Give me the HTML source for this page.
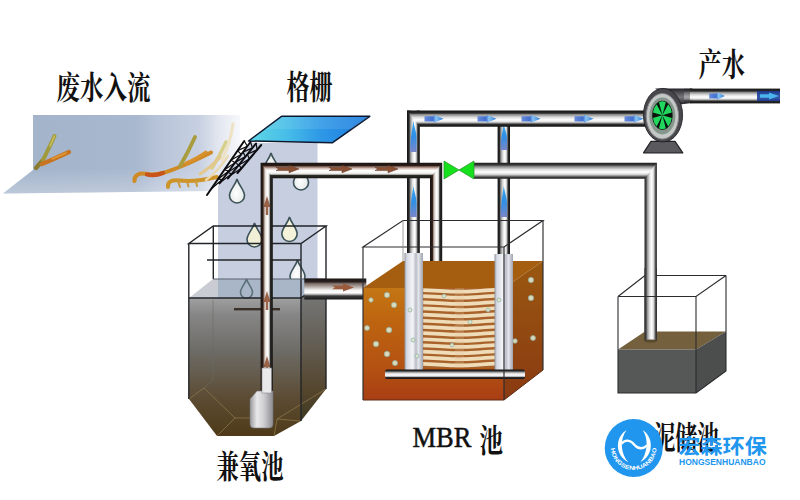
<!DOCTYPE html>
<html lang="zh"><head><meta charset="utf-8"><title>MBR</title>
<style>
html,body{margin:0;padding:0;background:#fff;}
body{width:800px;height:500px;overflow:hidden;font-family:"Liberation Sans",sans-serif;}
svg{display:block}
text{font-family:"Liberation Sans",sans-serif}
.serif{font-family:"Liberation Serif",serif}
.cjkserif{font-family:"Liberation Serif","Noto Serif CJK SC",serif;font-weight:bold}
.cjksans{font-family:"Liberation Sans","Noto Sans CJK SC",sans-serif;font-weight:bold}
</style></head><body>
<svg width="800" height="500" viewBox="0 0 800 500">
<defs>
<linearGradient id="chan" gradientUnits="userSpaceOnUse" x1="33" y1="0" x2="240" y2="0">
<stop offset="0" stop-color="#a3b4cb"/><stop offset=".5" stop-color="#a8b8ce"/><stop offset=".6" stop-color="#b7c3d8"/><stop offset=".8" stop-color="#c6d0e1"/><stop offset=".9" stop-color="#e3e7f0"/><stop offset="1" stop-color="#f7f8fb"/></linearGradient>
<linearGradient id="floor" gradientUnits="userSpaceOnUse" x1="0" y1="168" x2="0" y2="194">
<stop offset="0" stop-color="#ffffff" stop-opacity="0"/><stop offset="1" stop-color="#ffffff" stop-opacity=".28"/></linearGradient>
<linearGradient id="plate" gradientUnits="userSpaceOnUse" x1="255" y1="0" x2="365" y2="0">
<stop offset="0" stop-color="#5cd4e6"/><stop offset=".3" stop-color="#46bce8"/><stop offset=".6" stop-color="#2e98e6"/><stop offset="1" stop-color="#1c7ce0"/></linearGradient>
<!-- pipe gradients: horizontal pipes shade along y, vertical along x (objectBoundingBox) -->
<linearGradient id="ph" x1="0" y1="0" x2="0" y2="1">
<stop offset="0" stop-color="#141414"/><stop offset=".17" stop-color="#2c2c2c"/><stop offset=".25" stop-color="#8a8a8a"/><stop offset=".42" stop-color="#dcdcdc"/><stop offset=".58" stop-color="#ffffff"/><stop offset=".7" stop-color="#e0e0e0"/><stop offset=".78" stop-color="#8c8c8c"/><stop offset=".84" stop-color="#2c2c2c"/><stop offset="1" stop-color="#141414"/></linearGradient>
<linearGradient id="pv" x1="0" y1="0" x2="1" y2="0">
<stop offset="0" stop-color="#141414"/><stop offset=".17" stop-color="#2c2c2c"/><stop offset=".25" stop-color="#8a8a8a"/><stop offset=".42" stop-color="#dcdcdc"/><stop offset=".58" stop-color="#ffffff"/><stop offset=".7" stop-color="#e0e0e0"/><stop offset=".78" stop-color="#8c8c8c"/><stop offset=".84" stop-color="#2c2c2c"/><stop offset="1" stop-color="#141414"/></linearGradient>
<linearGradient id="bh" x1="0" y1="0" x2="0" y2="1">
<stop offset="0" stop-color="#1a1411"/><stop offset=".18" stop-color="#2a1c17"/><stop offset=".25" stop-color="#84655a"/><stop offset=".37" stop-color="#d6c4bc"/><stop offset=".5" stop-color="#fdfdfd"/><stop offset=".68" stop-color="#f4f4f2"/><stop offset=".76" stop-color="#a8a8a2"/><stop offset=".82" stop-color="#2c2a24"/><stop offset="1" stop-color="#161612"/></linearGradient>
<linearGradient id="bv" x1="0" y1="0" x2="1" y2="0">
<stop offset="0" stop-color="#1a1411"/><stop offset=".2" stop-color="#2e1e19"/><stop offset=".28" stop-color="#a08a80"/><stop offset=".4" stop-color="#e6e0dc"/><stop offset=".55" stop-color="#ffffff"/><stop offset=".68" stop-color="#e4e4e2"/><stop offset=".75" stop-color="#8a8a88"/><stop offset=".8" stop-color="#2a2a28"/><stop offset="1" stop-color="#161614"/></linearGradient>
<linearGradient id="gh" x1="0" y1="0" x2="0" y2="1">
<stop offset="0" stop-color="#1e1e1e"/><stop offset=".14" stop-color="#3a3a3a"/><stop offset=".24" stop-color="#8e8e8e"/><stop offset=".42" stop-color="#dedede"/><stop offset=".58" stop-color="#ffffff"/><stop offset=".72" stop-color="#dadada"/><stop offset=".82" stop-color="#8a8a8a"/><stop offset=".9" stop-color="#3a3a3a"/><stop offset="1" stop-color="#1e1e1e"/></linearGradient>
<linearGradient id="gv" x1="0" y1="0" x2="1" y2="0">
<stop offset="0" stop-color="#2a2a2a"/><stop offset=".13" stop-color="#454545"/><stop offset=".24" stop-color="#989898"/><stop offset=".42" stop-color="#e2e2e2"/><stop offset=".58" stop-color="#ffffff"/><stop offset=".72" stop-color="#dcdcdc"/><stop offset=".82" stop-color="#909090"/><stop offset=".9" stop-color="#454545"/><stop offset="1" stop-color="#2a2a2a"/></linearGradient>
<linearGradient id="ch" x1="0" y1="0" x2="0" y2="1">
<stop offset="0" stop-color="#1a1514"/><stop offset=".16" stop-color="#2a2220"/><stop offset=".24" stop-color="#7a6a64"/><stop offset=".4" stop-color="#b4aca8"/><stop offset=".55" stop-color="#f2f2f2"/><stop offset=".68" stop-color="#ffffff"/><stop offset=".76" stop-color="#b0b0b0"/><stop offset=".83" stop-color="#3a3a3a"/><stop offset="1" stop-color="#181818"/></linearGradient>
<linearGradient id="thr" x1="0" y1="0" x2="0" y2="1">
<stop offset="0" stop-color="#222226"/><stop offset=".25" stop-color="#4e4e52"/><stop offset=".55" stop-color="#77777a"/><stop offset=".8" stop-color="#4a4a4e"/><stop offset="1" stop-color="#222226"/></linearGradient>
<linearGradient id="post" x1="0" y1="0" x2="1" y2="0">
<stop offset="0" stop-color="#8e929c"/><stop offset=".12" stop-color="#d4d8e2"/><stop offset=".45" stop-color="#f4f5f8"/><stop offset=".62" stop-color="#b9bcc6"/><stop offset=".75" stop-color="#e4e6ec"/><stop offset="1" stop-color="#a0a3ac"/></linearGradient>
<linearGradient id="tankw" x1="0" y1="0" x2="0" y2="1">
<stop offset="0" stop-color="#a0a0a0"/><stop offset=".12" stop-color="#868686"/><stop offset=".4" stop-color="#6c6a64"/><stop offset=".72" stop-color="#5c4c34"/><stop offset="1" stop-color="#4e3a18"/></linearGradient>
<linearGradient id="tankr" x1="0" y1="0" x2="0" y2="1">
<stop offset="0" stop-color="#7c7e80"/><stop offset=".4" stop-color="#66625a"/><stop offset=".8" stop-color="#54442c"/><stop offset="1" stop-color="#3c3a22"/></linearGradient>
<linearGradient id="mbrf" x1="0" y1="0" x2="0" y2="1">
<stop offset="0" stop-color="#c47614"/><stop offset=".3" stop-color="#bd6410"/><stop offset=".7" stop-color="#b45212"/><stop offset="1" stop-color="#a93e14"/></linearGradient>
<linearGradient id="mbrr" x1="0" y1="0" x2="0" y2="1">
<stop offset="0" stop-color="#9a5810"/><stop offset="1" stop-color="#8a3a12"/></linearGradient>
<linearGradient id="pumpb" x1="0" y1="0" x2="1" y2="0">
<stop offset="0" stop-color="#9a9a9c"/><stop offset=".3" stop-color="#e8e8ea"/><stop offset=".6" stop-color="#cfcfd2"/><stop offset="1" stop-color="#8c8c90"/></linearGradient>
<linearGradient id="arb" x1="0" y1="0" x2="1" y2="0"><stop offset="0" stop-color="#6a8ad8"/><stop offset=".45" stop-color="#3f6fd0"/><stop offset=".6" stop-color="#8cc4f0"/><stop offset="1" stop-color="#2a78d8"/></linearGradient>
<linearGradient id="arbu" x1="0" y1="1" x2="0" y2="0"><stop offset="0" stop-color="#7a86c8"/><stop offset=".5" stop-color="#2f8fe6"/><stop offset="1" stop-color="#3aa8f0"/></linearGradient>
<radialGradient id="drop" cx=".45" cy=".6" r=".6"><stop offset="0" stop-color="#ffffff"/><stop offset="1" stop-color="#dfe6e4"/></radialGradient>
<path id="dr" d="M0,0 C1.5,6 7.5,11 7.5,16.5 A7.5,7.5 0 0 1 -7.5,16.5 C-7.5,11 -1.5,6 0,0 Z"/>
<path id="ar" d="M-9.5,-2.6 L0,-2.6 L0,-4 L9.5,0 L0,4 L0,2.6 L-9.5,2.6 Z"/>
</defs>
<rect width="800" height="500" fill="#fff"/>

<path d="M33,115 L240,115 L240,150 L212,191 L3,193.5 L33,170 Z" fill="url(#chan)"/>
<path d="M33,170 L225,168 L212,191 L3,193.5 Z" fill="url(#floor)"/>
<g fill="none" stroke-linecap="round" stroke-linejoin="round">
<path d="M36,168 L43,160" stroke="#8c7c30" stroke-width="4.2"/>
<path d="M43,160 C47,152 51,144 54.5,136" stroke="#a09a3c" stroke-width="4.0"/>
<path d="M50,146 L54.5,136" stroke="#c8c060" stroke-width="1.6"/>
<path d="M42,164 C52,160 60,156 69,152" stroke="#c87420" stroke-width="4.2"/>
<path d="M52,159 L66,153" stroke="#e09a38" stroke-width="1.5"/>
<path d="M134.5,181 C134,175 139,172.5 147,174 C158,176 170,171 182,166 C192,162 202,157 211,152.5" stroke="#cf8a26" stroke-width="4.0"/>
<path d="M147,174.5 C153,176 158,175 163,173" stroke="#c8541a" stroke-width="4.2"/>
<path d="M180,166 C186,156 191,146 195,137" stroke="#a89c3c" stroke-width="3.8"/>
<path d="M186,163 C194,160 200,156 206,152" stroke="#d8902c" stroke-width="3.0"/>
<path d="M168,187 C167.5,181.5 172,179.5 180,180.5 C192,182 204,180 217,177" stroke="#cf9428" stroke-width="4.0"/>
<path d="M178,181 L180,187 M187,181.5 L188.5,186.5 M196,181.5 L197,186" stroke="#c89a38" stroke-width="2.0"/>
<path d="M212,168 C217,160 222,151 226,142" stroke="#d9cf8c" stroke-width="3.6"/>
<path d="M200,174 C208,169 214,164 220,157" stroke="#e2c88c" stroke-width="3.2"/>
<path d="M222,160 C227,150 231,138 233,124" stroke="#eee2c4" stroke-width="3.0"/>
<path d="M206,180 C214,174 222,166 228,156" stroke="#ead8ae" stroke-width="2.4"/>
</g>
<path d="M251,143 L317.5,143 L317.5,303 L218,303 L218,186 Z" fill="#c6cee0"/>
<use href="#dr" transform="translate(271 153) scale(1.0)" fill="url(#drop)" stroke="#3c5258" stroke-width="1.60" opacity="1"/>
<use href="#dr" transform="translate(301 166) scale(1.0)" fill="url(#drop)" stroke="#3c5258" stroke-width="1.60" opacity="1"/>
<use href="#dr" transform="translate(237 179) scale(1.0)" fill="url(#drop)" stroke="#3c5258" stroke-width="1.60" opacity="1"/>
<use href="#dr" transform="translate(289.5 217) scale(1.02)" fill="#f4f2d8" stroke="#3c5258" stroke-width="1.57" opacity="1"/>
<use href="#dr" transform="translate(254.5 223) scale(1.0)" fill="#f1efd6" stroke="#3c5258" stroke-width="1.60" opacity="1"/>
<use href="#dr" transform="translate(297.5 260) scale(1.0)" fill="url(#drop)" stroke="#3c5258" stroke-width="1.60" opacity="1"/>
<path d="M281.5,116.3 L369.8,116.3 L332.2,142.8 L248.5,141 Z" fill="url(#plate)" stroke="#0c1830" stroke-width="1.5" stroke-linejoin="round"/>
<path d="M281.5,117 L369,117 L352,129 L265,129 Z" fill="#fff" opacity=".1"/>
<path d="M244.2,141.0 L207.0,195.0 M250.5,142.0 L219.5,183.5 M256.0,143.5 L228.0,178.5 M261.2,145.0 L237.5,173.0" fill="none" stroke="#0c0c10" stroke-width="2" stroke-linecap="round"/>
<path d="M244.2,141.0 L247.4,146.2 L237.6,150.6 M237.6,150.6 L241.2,154.4 L231.0,160.1 M231.0,160.1 L235.0,162.8 L224.5,169.7 M224.5,169.7 L228.8,171.1 L217.9,179.2 M217.9,179.2 L222.6,179.3 L211.3,188.8 M250.5,142.0 L252.5,147.9 L243.0,152.1 M243.0,152.1 L245.5,156.6 L235.5,162.1 M235.5,162.1 L238.5,165.4 L228.0,172.2 M228.0,172.2 L231.5,174.1 L220.5,182.2 M256.0,143.5 L257.2,149.7 L247.4,154.2 M247.4,154.2 L249.3,159.0 L238.9,164.9 M238.9,164.9 L241.4,168.3 L230.3,175.6" fill="none" stroke="#0c0c10" stroke-width="1.2" stroke-linejoin="round"/>
<path d="M189,298 L301,298 L326,279 L213,279 Z" fill="#c9cdd3"/>
<path d="M218,279 L317.5,279 L317.5,298 L218,298 Z" fill="#a9b6c7"/>
<path d="M189,298 L301,298 L301,421 L274,436 L217,436 L189,399 Z" fill="url(#tankw)"/>
<path d="M301,298 L326,279 L326,389 L301,421 Z" fill="url(#tankr)"/>
<path d="M189,399 L204,388 M204,388 L235,418 L250,418 M217,436 L235,418 M274,436 L277,419 L300,421 M277,419 L326,389" fill="none" stroke="#8a7448" stroke-width="1" opacity=".8"/>
<path d="M213,300 L213,380 L204,388" fill="none" stroke="#6a6a66" stroke-width="1" opacity=".6"/>
<use href="#dr" transform="translate(246.5 279) scale(0.8)" fill="none" stroke="#3c5258" stroke-width="2.00" opacity="0.7"/>
<g fill="none" stroke="#222428" stroke-width="1.4">
<path d="M213.3,226 L326,226 L301,243.5 L188.8,243.5 Z"/>
<path d="M188.8,243.5 L188.8,399 M301,243.5 L301,421 M326,226 L326,389 M213.3,226 L213.3,279"/>
<path d="M189,298 L301,298 L326,279"/>
<path d="M213,279 L326,279" stroke="#5a6270" stroke-width="1"/>
<path d="M207,260 L301,260" stroke-width="1.4"/>
</g>
<rect x="234" y="308" width="46" height="2.4" fill="#3a302a"/>
<rect x="260.6" y="163" width="12.2" height="232" fill="url(#bv)"/>
<path d="M267,196 L270.5,207 L268.2,207 L268.2,215 L265.8,215 L265.8,207 L263.5,207 Z" fill="#8a4a2c" opacity=".85"/>
<path d="M267,291 L270.5,302 L268.2,302 L268.2,310 L265.8,310 L265.8,302 L263.5,302 Z" fill="#8a4a2c" opacity=".85"/>
<path d="M267,356 L270.5,367 L268.2,367 L268.2,375 L265.8,375 L265.8,367 L263.5,367 Z" fill="#8a4a2c" opacity=".85"/>
<path d="M250,399 L257,391 L273,391 L273,424 Q273,428 269,428 L254,428 Q250,428 250,424 Z" fill="url(#pumpb)" stroke="#77777c" stroke-width=".6"/>
<rect x="262" y="368" width="9.5" height="25" fill="#e9e9ec" stroke="#8a8a90" stroke-width=".6"/>
<rect x="304.3" y="278.5" width="62" height="21" fill="url(#ch)"/>
<path d="M343,283.2 L354,287.4 L343,291.6 L343,289.2 L332,289.2 L335,287.4 L332,285.6 L343,285.6 Z" fill="#9a5a3c"/>
<rect x="407" y="110.5" width="12.8" height="143.5" fill="url(#pv)"/>
<rect x="497.6" y="120" width="12.4" height="134" fill="url(#pv)"/>
<rect x="430" y="163" width="12.2" height="98" fill="url(#bv)"/>
<path d="M413.4,121.0 C414.2,127.2 416.6,131.8 416.6,138.1 L416.6,152.0 L410.2,152.0 C410.2,138.1 412.6,127.2 413.4,121.0 Z" fill="url(#arbu)"/>
<path d="M413.4,186.0 C414.2,192.2 416.6,196.8 416.6,203.1 L416.6,217.0 L410.2,217.0 C410.2,203.1 412.6,192.2 413.4,186.0 Z" fill="url(#arbu)"/>
<path d="M503.8,124.0 C504.6,129.2 507.0,133.1 507.0,138.3 L507.0,150.0 L500.6,150.0 C500.6,138.3 503.0,129.2 503.8,124.0 Z" fill="url(#arbu)"/>
<path d="M503.8,186.0 C504.6,192.2 507.0,196.8 507.0,203.1 L507.0,217.0 L500.6,217.0 C500.6,203.1 503.0,192.2 503.8,186.0 Z" fill="url(#arbu)"/>
<path d="M260.6,162.8 L442.2,162.8 L430,178.2 L272.8,178.2 Z" fill="url(#bh)"/>
<rect x="644.5" y="163" width="12.4" height="178" fill="url(#gv)"/>
<path d="M473,162.8 L656.9,162.8 L644.5,178.8 L473,178.8 Z" fill="url(#gh)"/>
<path d="M289,165.2 L299,169 L289,172.8 L289,170.6 L276,170.6 L279,169 L276,167.4 L289,167.4 Z" fill="#8a5034" stroke="#5a3220" stroke-width=".5"/>
<path d="M342,165.2 L352,169 L342,172.8 L342,170.6 L329,170.6 L332,169 L329,167.4 L342,167.4 Z" fill="#8a5034" stroke="#5a3220" stroke-width=".5"/>
<path d="M388,165.2 L398,169 L388,172.8 L388,170.6 L375,170.6 L378,169 L375,167.4 L388,167.4 Z" fill="#8a5034" stroke="#5a3220" stroke-width=".5"/>
<path d="M444,161 L459,170 L444,179 Z M474,161 L459,170 L474,179 Z" fill="#14e01c" stroke="#2a9a30" stroke-width=".8" stroke-linejoin="round"/>
<path d="M407,110.4 L647,110.4 L647,126.8 L419.8,126.8 Z" fill="url(#ph)"/>
<use href="#ar" transform="translate(434 118.8)" fill="url(#arb)"/>
<use href="#ar" transform="translate(487 118.8)" fill="url(#arb)"/>
<use href="#ar" transform="translate(531 118.8)" fill="url(#arb)"/>
<use href="#ar" transform="translate(584 118.8)" fill="url(#arb)"/>
<use href="#ar" transform="translate(634 118.8)" fill="url(#arb)"/>
<path d="M643.5,152.8 L651,141.4 L675,141.4 L682.8,152.8 Z" fill="#5a5a5e" stroke="#222226" stroke-width="1.2" stroke-linejoin="round"/>
<path d="M655,88.4 L692,88.4 L692,103 L680,104.5 Z" fill="url(#thr)"/>
<ellipse cx="663" cy="115.2" rx="19.6" ry="26.8" fill="#48484c" stroke="#1e1e22" stroke-width=".8"/>
<ellipse cx="662.4" cy="116.3" rx="16.2" ry="22.8" fill="#c4c8c6" stroke="#858588" stroke-width="1"/>
<ellipse cx="662.4" cy="116" rx="13" ry="18.4" fill="#86968c"/>
<ellipse cx="662.4" cy="115.3" rx="10.2" ry="14.6" fill="#0a120c"/>
<g fill="#20d85e" transform="translate(662.4 115.3) scale(1 1.45)">
<path d="M0,0 L-3.4,-9 A9.7,9.7 0 0 1 3.4,-9 Z"/>
<path d="M0,0 L3.4,9 A9.7,9.7 0 0 1 -3.4,9 Z"/>
<path d="M0,0 L9,-3.4 A9.7,9.7 0 0 1 9,3.4 Z" transform="rotate(-32)"/>
<path d="M0,0 L-9,3.4 A9.7,9.7 0 0 1 -9,-3.4 Z" transform="rotate(-32)"/>
<path d="M0,0 L9,-3.4 A9.7,9.7 0 0 1 9,3.4 Z" transform="rotate(32)"/>
<path d="M0,0 L-9,3.4 A9.7,9.7 0 0 1 -9,-3.4 Z" transform="rotate(32)"/>
</g>
<rect x="690" y="88.6" width="90" height="14.8" fill="url(#ph)"/>
<rect x="684" y="88.6" width="9" height="14.4" fill="url(#ph)" opacity=".35"/>
<use href="#ar" transform="translate(717 96) scale(.82 1)" fill="url(#arb)"/>
<rect x="757" y="91" width="23" height="10" fill="#12349a" opacity=".85"/>
<path d="M760,94.2 L769,94.2 L769,92.4 L779,96 L769,99.6 L769,97.8 L760,97.8 Z" fill="#4ab4ec"/>
<path d="M363,288 L403,261 L543,261 L504,288 Z" fill="#a55e10"/>
<path d="M504,288 L543,261 L543,370 L504,400 Z" fill="url(#mbrr)"/>
<path d="M363,288 L504,288 L504,400 L363,400 Z" fill="url(#mbrf)"/>
<rect x="422.5" y="288" width="72.5" height="80.5" fill="#a8622a"/>
<path d="M422.5,288.2 C440,288.6 450,289.8 459,289.8 S482,288.8 495,288.0 L495,291.7 C482,292.5 470,293.5 459,293.5 S440,292.3 422.5,291.9 Z" fill="#efdcb8"/>
<path d="M422.5,294.3 C440,294.7 450,295.9 459,295.9 S482,294.9 495,294.1 L495,297.8 C482,298.6 470,299.6 459,299.6 S440,298.4 422.5,298.0 Z" fill="#efdcb8"/>
<path d="M422.5,300.5 C440,300.9 450,302.1 459,302.1 S482,301.1 495,300.3 L495,304.0 C482,304.8 470,305.8 459,305.8 S440,304.6 422.5,304.2 Z" fill="#efdcb8"/>
<path d="M422.5,306.6 C440,307.0 450,308.2 459,308.2 S482,307.2 495,306.4 L495,310.1 C482,310.9 470,311.9 459,311.9 S440,310.7 422.5,310.3 Z" fill="#efdcb8"/>
<path d="M422.5,312.8 C440,313.2 450,314.4 459,314.4 S482,313.4 495,312.6 L495,316.3 C482,317.1 470,318.1 459,318.1 S440,316.9 422.5,316.5 Z" fill="#efdcb8"/>
<path d="M422.5,318.9 C440,319.3 450,320.5 459,320.5 S482,319.5 495,318.7 L495,322.4 C482,323.2 470,324.2 459,324.2 S440,323.0 422.5,322.6 Z" fill="#efdcb8"/>
<path d="M422.5,325.1 C440,325.5 450,326.7 459,326.7 S482,325.7 495,324.9 L495,328.6 C482,329.4 470,330.4 459,330.4 S440,329.2 422.5,328.8 Z" fill="#efdcb8"/>
<path d="M422.5,331.2 C440,331.6 450,332.8 459,332.8 S482,331.8 495,331.0 L495,334.7 C482,335.5 470,336.5 459,336.5 S440,335.3 422.5,334.9 Z" fill="#efdcb8"/>
<path d="M422.5,337.4 C440,337.8 450,339.0 459,339.0 S482,338.0 495,337.2 L495,340.9 C482,341.7 470,342.7 459,342.7 S440,341.5 422.5,341.1 Z" fill="#efdcb8"/>
<path d="M422.5,343.5 C440,343.9 450,345.1 459,345.1 S482,344.1 495,343.3 L495,347.0 C482,347.8 470,348.8 459,348.8 S440,347.6 422.5,347.2 Z" fill="#efdcb8"/>
<path d="M422.5,349.7 C440,350.1 450,351.3 459,351.3 S482,350.3 495,349.5 L495,353.2 C482,354.0 470,355.0 459,355.0 S440,353.8 422.5,353.4 Z" fill="#efdcb8"/>
<path d="M422.5,355.8 C440,356.2 450,357.4 459,357.4 S482,356.4 495,355.6 L495,359.3 C482,360.1 470,361.1 459,361.1 S440,359.9 422.5,359.5 Z" fill="#efdcb8"/>
<path d="M422.5,362.0 C440,362.4 450,363.6 459,363.6 S482,362.6 495,361.8 L495,365.5 C482,366.3 470,367.3 459,367.3 S440,366.1 422.5,365.7 Z" fill="#efdcb8"/>
<rect x="455" y="288" width="9" height="80" fill="#e8c8a0" opacity=".22"/>
<rect x="421.6" y="288" width="1.6" height="82" fill="#6a5a50" opacity=".7"/>
<rect x="404.5" y="253" width="18.5" height="120" fill="url(#post)"/>
<rect x="494.5" y="254" width="18.5" height="119" fill="url(#post)"/>
<rect x="385" y="369.5" width="140" height="9.5" rx="2" fill="url(#ph)"/>
<circle cx="387" cy="295" r="2.7" fill="#dfe8cc" stroke="#8fb0a8" stroke-width=".8" opacity=".9"/>
<circle cx="394" cy="305" r="2.7" fill="#dfe8cc" stroke="#8fb0a8" stroke-width=".8" opacity=".9"/>
<circle cx="367" cy="328" r="2.5" fill="#dfe8cc" stroke="#8fb0a8" stroke-width=".8" opacity=".9"/>
<circle cx="389" cy="330" r="2.8" fill="#dfe8cc" stroke="#8fb0a8" stroke-width=".8" opacity=".9"/>
<circle cx="376" cy="344" r="2.8" fill="#dfe8cc" stroke="#8fb0a8" stroke-width=".8" opacity=".9"/>
<circle cx="387" cy="354" r="2.8" fill="#dfe8cc" stroke="#8fb0a8" stroke-width=".8" opacity=".9"/>
<circle cx="395" cy="363" r="2.6" fill="#dfe8cc" stroke="#8fb0a8" stroke-width=".8" opacity=".9"/>
<circle cx="371" cy="300" r="2.2" fill="#dfe8cc" stroke="#8fb0a8" stroke-width=".8" opacity=".9"/>
<circle cx="410" cy="310" r="2" fill="#dfe8cc" stroke="#8fb0a8" stroke-width=".8" opacity=".9"/>
<circle cx="413" cy="340" r="2" fill="#dfe8cc" stroke="#8fb0a8" stroke-width=".8" opacity=".9"/>
<circle cx="417" cy="356" r="2" fill="#dfe8cc" stroke="#8fb0a8" stroke-width=".8" opacity=".9"/>
<circle cx="531" cy="280" r="2.7" fill="#dfe8cc" stroke="#8fb0a8" stroke-width=".8" opacity=".9"/>
<circle cx="531" cy="298" r="2.7" fill="#dfe8cc" stroke="#8fb0a8" stroke-width=".8" opacity=".9"/>
<circle cx="533" cy="338" r="2.5" fill="#dfe8cc" stroke="#8fb0a8" stroke-width=".8" opacity=".9"/>
<circle cx="515" cy="341" r="2.3" fill="#dfe8cc" stroke="#8fb0a8" stroke-width=".8" opacity=".9"/>
<circle cx="499" cy="300" r="2" fill="#dfe8cc" stroke="#8fb0a8" stroke-width=".8" opacity=".9"/>
<circle cx="488" cy="310" r="2" fill="#dfe8cc" stroke="#8fb0a8" stroke-width=".8" opacity=".9"/>
<circle cx="444" cy="296" r="2" fill="#dfe8cc" stroke="#8fb0a8" stroke-width=".8" opacity=".9"/>
<circle cx="470" cy="322" r="2" fill="#dfe8cc" stroke="#8fb0a8" stroke-width=".8" opacity=".9"/>
<circle cx="452" cy="345" r="2" fill="#dfe8cc" stroke="#8fb0a8" stroke-width=".8" opacity=".9"/>
<g fill="none" stroke="#2c2c30" stroke-width="1.15">
<path d="M403,220.5 L543,220.5 L504,247 L363,247 Z"/>
<path d="M363,247 L363,400 M504,247 L504,400 M543,220.5 L543,370"/>
<path d="M403,220.5 L403,261" stroke="#888" stroke-width=".8"/>
<path d="M363,400 L504,400 L543,370" stroke="#5a2a14" stroke-width="1"/>
</g>
<path d="M618,349.5 L645,331.5 L726,331.5 L696,349.5 Z" fill="#74603c"/>
<path d="M618,349.5 L696,349.5 L696,393 L618,393 Z" fill="#565757"/>
<path d="M696,349.5 L726,331.5 L726,371 L696,393 Z" fill="#4c4d4d"/>
<path d="M645,275.5 L726,275.5 M645,275.5 L618,296.5" fill="none" stroke="#2c2c30" stroke-width="1.1"/>
<rect x="644.5" y="268" width="12.4" height="73" fill="url(#gv)"/>
<ellipse cx="650.7" cy="341" rx="6.2" ry="1.6" fill="#5a4a30"/>
<g fill="none" stroke="#2c2c30" stroke-width="1.1">
<path d="M726,275.5 L696,296.5 L618,296.5"/>
<path d="M618,296.5 L618,393 L696,393 L726,371 L726,275.5 M696,296.5 L696,393"/>
</g>
<text class="cjkserif" x="0" y="0" transform="translate(56.5 98.79) scale(1 1.341)" font-size="23.5" fill="#111">废水入流</text>
<text class="cjkserif" x="0" y="0" transform="translate(286.5 98.72) scale(1 1.418)" font-size="23" fill="#111">格栅</text>
<text class="cjkserif" x="0" y="0" transform="translate(698.5 75.76) scale(1 1.379)" font-size="23.25" fill="#111">产水</text>
<text class="cjkserif" x="0" y="0" transform="translate(216.5 477.76) scale(1 1.436)" font-size="22.33" fill="#111">兼氧池</text>
<text class="serif" x="0" y="0" transform="translate(412.5 446.5) scale(1 1.08)" font-size="26.5" fill="#111" stroke="#111" stroke-width=".45">MBR</text>
<text class="cjkserif" x="0" y="0" transform="translate(479.5 451.79) scale(1 1.341)" font-size="23.5" fill="#111">池</text>
<text class="cjkserif" x="0" y="0" transform="translate(653.5 448.76) scale(1 1.469)" font-size="21.83" fill="#111">泥储池</text>
<circle cx="633.7" cy="448" r="29" fill="#2196ee"/>
<g fill="#fff">
<path d="M626.6,430 C615,437 614.5,455 628.4,462.3 C620.5,454 619.5,439 626.6,430 Z"/>
<path d="M642.7,430 C653.5,437 654.5,455 640.2,462.3 C647.5,454 649,439 642.7,430 Z"/>
</g>
<path d="M621.4,443.9 C625,439.3 630,439.5 634.6,444.9 C638,448.7 642.5,449.6 647.2,445.4" fill="none" stroke="#fff" stroke-width="2.3"/>
<path id="larc" d="M610.9,447.2 A22.8,22.8 0 0 0 656.5,447.2" fill="none"/>
<text font-size="5.7" font-weight="bold" fill="#fff" textLength="69" lengthAdjust="spacingAndGlyphs"><textPath href="#larc" startOffset="1.2" textLength="69" lengthAdjust="spacingAndGlyphs">HONGSENHUANBAO</textPath></text>
<text class="cjksans" x="0" y="0" transform="translate(678.3 453.76) scale(1 0.928)" font-size="22.13" fill="#2196ee">宏森环保</text>
<text x="679" y="464.9" font-size="8.7" font-weight="bold" fill="#2196ee" textLength="86.5" lengthAdjust="spacingAndGlyphs">HONGSENHUANBAO</text>
</svg></body></html>
